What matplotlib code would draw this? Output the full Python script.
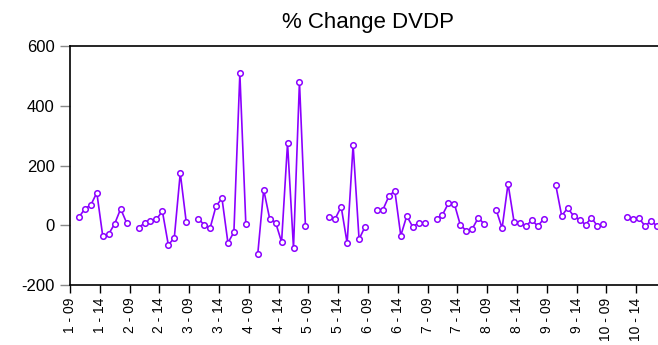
import numpy as np
import matplotlib
matplotlib.use('Agg')
import matplotlib.pyplot as plt

nan = np.nan
# one list per cross-section, years 09..18 (09 has no % change)
s1 = [nan, 27, 55, 68, 109, -37, -29, 5, 55, 8]
s2 = [nan, -8, 7, 13, 20, 47, -66, -42, 175, 11]
s3 = [nan, 22, 2, -10, 64, 90, -59, -23, 508, 5]
s4 = [nan, -97, 119, 22, 9, -56, 275, -77, 481, -1]
s5 = [nan, nan, nan, 27, 22, 62, -60, 269, -47, -5]
s6 = [nan, 52, 52, 97, 116, -35, 31, -5, 8, 8]
s7 = [nan, 22, 35, 74, 71, 0, -18, -12, 25, 4]
s8 = [nan, 52, -10, 139, 12, 8, -3, 17, -3, 22]
s9 = [nan, 135, 31, 58, 31, 18, 2, 25, -3, 4]
s10 = [nan, nan, nan, 27, 22, 23, -3, 15, -3, nan]
sections = [s1, s2, s3, s4, s5, s6, s7, s8, s9, s10]
tick_years = ['09', '14']

vals = np.array(sum(sections, []), dtype=float)
x = np.arange(len(vals)) + 0.5

fig = plt.figure(figsize=(6.58, 3.45), dpi=100)
ax = fig.add_axes([70/658, 1-285/345, 596/658, 239/345])
plt.rcParams['font.family'] = 'Liberation Sans'

ax.plot(x, vals, color='#8B00FF', lw=1.2, marker='o', ms=4.0,
        mfc='white', mec='#8B00FF', mew=1.1)

ax.set_xlim(0, len(vals))
ax.set_ylim(-200, 600)
ax.set_yticks([-200, 0, 200, 400, 600])
ax.set_yticklabels(['-200', '0', '200', '400', '600'], family='Liberation Sans', fontsize=12)

pos, labs = [], []
for i in range(len(sections)):
    for k, yy in enumerate(tick_years):
        pos.append(i*10 + k*5)
        labs.append('%d - %s' % (i+1, yy))
ax.set_xticks(pos)
ax.set_xticklabels(labs, rotation=90, family='Liberation Sans', fontsize=10)

ax.tick_params(axis='y', direction='out', length=7, width=1, color='#888888', pad=4)
ax.tick_params(axis='x', direction='out', length=6, width=1, color='black', pad=3)
ax.spines['right'].set_visible(False)
for s in ['left', 'top', 'bottom']:
    ax.spines[s].set_linewidth(1.2)

ax.set_title('% Change DVDP', family='Liberation Sans', fontsize=16, pad=13)

fig.savefig('out.png', dpi=100)
